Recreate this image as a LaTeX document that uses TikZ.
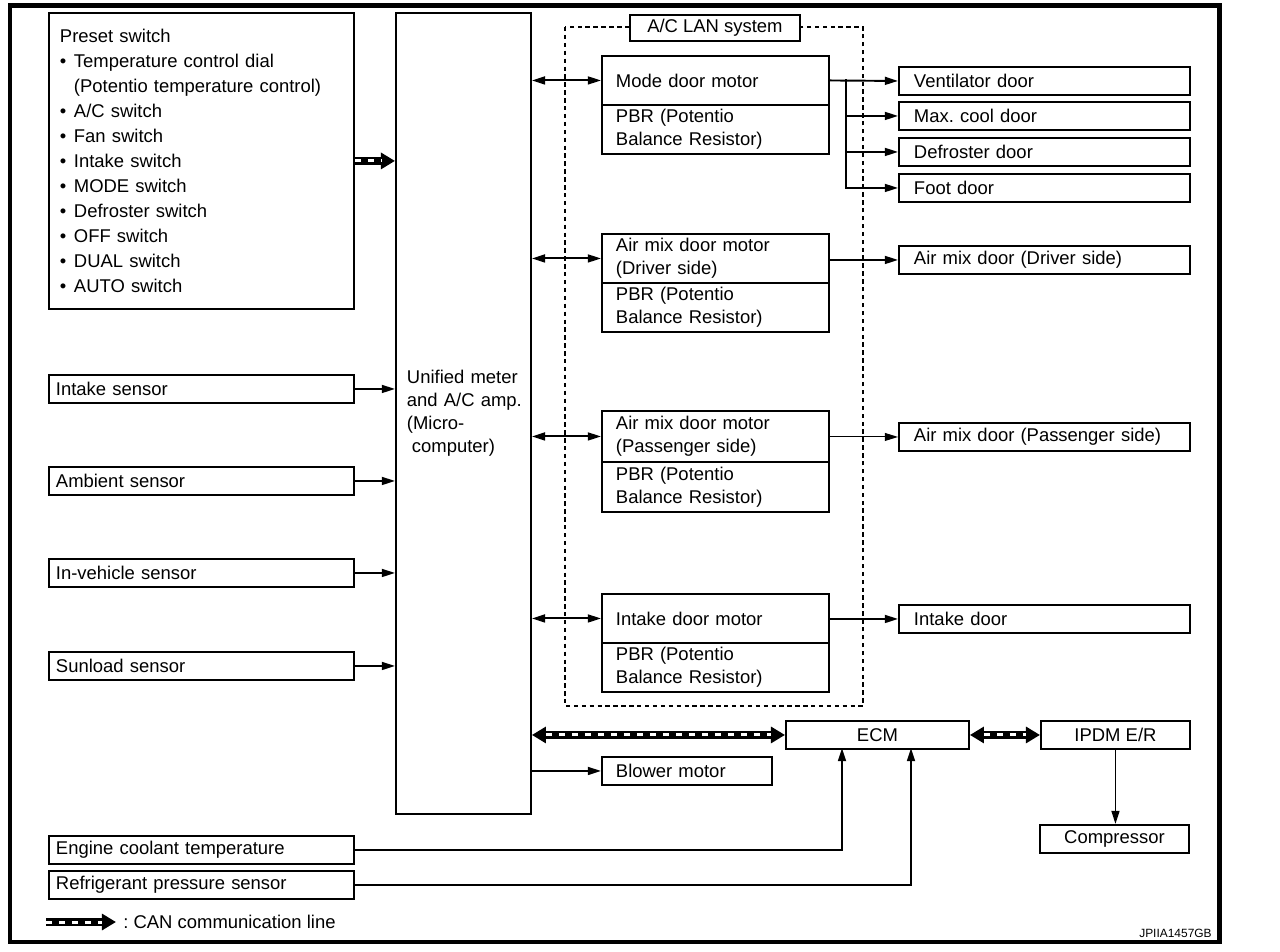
\documentclass[tikz,border=0pt]{standalone}
\usepackage{fontspec}
\setmainfont{Liberation Sans}
\usetikzlibrary{arrows.meta}

\newcommand{\blt}{\makebox[0.28cm][l]{\textbullet}}

\tikzset{
  box/.style={draw, line width=1.1pt, inner sep=0pt, align=left, anchor=north west},
  cbox/.style={draw, line width=1.1pt, inner sep=0pt, align=center, anchor=north west,
    minimum height=0.56cm},
  motor/.style={box, minimum width=4.54cm, minimum height=0.98cm, text width=3.98cm},
  door/.style={box, minimum width=5.82cm, minimum height=0.56cm, text width=5.22cm},
  sensor/.style={box, minimum width=6.1cm, minimum height=0.56cm, text width=5.82cm},
  arr/.style={line width=1.1pt, -{Triangle[length=7.5pt,width=4.5pt]}},
  arrboth/.style={line width=1.1pt, {Triangle[length=7.5pt,width=4.5pt]}-{Triangle[length=7.5pt,width=4.5pt]}},
  can/.style={line width=5pt, -{Triangle[length=8pt,width=9pt]},
    postaction={draw=white, -, line width=1.7pt, dash pattern=on 3.4pt off 4pt, shorten >=8pt}},
  canboth/.style={line width=5pt, {Triangle[length=8pt,width=9pt]}-{Triangle[length=8pt,width=9pt]},
    postaction={draw=white, -, line width=1.7pt, dash pattern=on 3.4pt off 4pt, shorten >=8pt, shorten <=8pt}},
  lan/.style={line width=1.1pt, dash pattern=on 2.5pt off 2pt}
}

\begin{document}
\frenchspacing
\begin{tikzpicture}[x=0.02cm, y=-0.02cm, font=\fontsize{10.5}{13}\selectfont]
\useasboundingbox (0,0) rectangle (1280,952);
\draw[line width=2.5pt] (10,5.5) rectangle (1219.5,942);

% Inputs
\node[box, minimum width=6.1cm, minimum height=5.92cm, text width=5.66cm,
  font=\fontsize{10.5}{14.2}\selectfont] (preset) at (48,12)
  {Preset switch\\
   \blt Temperature control dial\\
   \hspace*{0.28cm}(Potentio temperature control)\\
   \blt A/C switch\\
   \blt Fan switch\\
   \blt Intake switch\\
   \blt MODE switch\\
   \blt Defroster switch\\
   \blt OFF switch\\
   \blt DUAL switch\\
   \blt AUTO switch};
\node[sensor] (intake) at (48,374) {Intake sensor};
\node[sensor] (ambient) at (48,466) {Ambient sensor};
\node[sensor] (invehicle) at (48,558) {In-vehicle sensor};
\node[sensor] (sunload) at (48,651) {Sunload sensor};
\node[sensor] (coolant) at (48,835) {Engine coolant temperature};
\node[sensor] (refrig) at (48,870) {Refrigerant pressure sensor};

% Amplifier
\node[box, minimum width=2.7cm, minimum height=16.02cm, text width=2.26cm] (unified) at (395,12)
  {Unified~meter\\and~A/C~amp.\\(Micro-\\\hspace*{0.1cm}computer)};

% A/C LAN system
\draw[lan] (565,27) rectangle (863,706);
\node[cbox, fill=white, minimum width=3.4cm, minimum height=0.52cm] (lanlabel) at (629,14) {A/C LAN system};

\node[motor] (modetop) at (601,55) {Mode door motor};
\node[motor] (modepbr) at (601,104) {PBR (Potentio\\Balance Resistor)};
\node[motor] (drvtop) at (601,233) {Air mix door motor\\(Driver side)};
\node[motor] (drvpbr) at (601,282) {PBR (Potentio\\Balance Resistor)};
\node[motor, minimum height=1.02cm] (pastop) at (601,410) {Air mix door motor\\(Passenger side)};
\node[motor, minimum height=1.0cm] (paspbr) at (601,461) {PBR (Potentio\\Balance Resistor)};
\node[motor] (intaketop) at (601,593) {Intake door motor};
\node[motor] (intakepbr) at (601,642) {PBR (Potentio\\Balance Resistor)};

% Doors
\node[door] (vent) at (898,66) {Ventilator door};
\node[door] (maxcool) at (898,101) {Max. cool door};
\node[door] (defrost) at (898,137) {Defroster door};
\node[door] (foot) at (898,173) {Foot door};
\node[door] (mixdrv) at (898,245) {Air mix door (Driver side)};
\node[door] (mixpas) at (898,422) {Air mix door (Passenger side)};
\node[door] (intakedoor) at (898,604) {Intake door};

% Bottom row
\node[box, minimum width=3.4cm, minimum height=0.56cm, text width=2.84cm] (blower) at (601,756) {Blower motor};
\node[cbox, minimum width=3.66cm] (ecm) at (785,720) {ECM};
\node[cbox, minimum width=2.98cm] (ipdm) at (1040,720) {IPDM E/R};
\node[cbox, minimum width=2.98cm] (compressor) at (1039,824) {Compressor};

% Connections
\draw[can] (preset.east) -- (preset.east -| unified.west);
\foreach \s in {intake,ambient,invehicle,sunload}
  \draw[arr] (\s.east) -- (\s.east -| unified.west);
\foreach \m in {modetop,drvtop,pastop,intaketop}
  \draw[arrboth] (\m.west -| unified.east) -- (\m.west);

\draw[arr] (modetop.east) -- (vent.west);
\coordinate (modebr) at (846,79.5);
\foreach \d in {maxcool,defrost,foot}
  \draw[arr] (modebr) |- (\d.west);
\draw[arr] (drvtop.east |- mixdrv.west) -- (mixdrv.west);
\draw[arr, line width=0.6pt] (pastop.east |- mixpas.west) -- (mixpas.west);
\draw[arr] (intaketop.east |- intakedoor.west) -- (intakedoor.west);

\draw[canboth] (ecm.west -| unified.east) -- (ecm.west);
\draw[canboth] (ecm.east) -- (ipdm.west);
\draw[arr] (blower.west -| unified.east) -- (blower.west);
\coordinate (ecmin1) at (842,748);
\coordinate (ecmin2) at (911,748);
\draw[arr] (coolant.east) -| (ecmin1);
\draw[arr] (refrig.east) -| (ecmin2);
\draw[arr] (ipdm.south) -- (ipdm.south |- compressor.north);

% Legend
\coordinate (legstart) at (46,922);
\coordinate (legend) at (116,922);
\draw[can] (legstart) -- (legend);
\node[anchor=west, inner sep=0pt] (legtext) at (123,922) {: CAN communication line};
\node[anchor=east, inner sep=0pt, font=\fontsize{6.8}{8}\selectfont] (figid) at (1212,933) {JPIIA1457GB};
\end{tikzpicture}
\end{document}
